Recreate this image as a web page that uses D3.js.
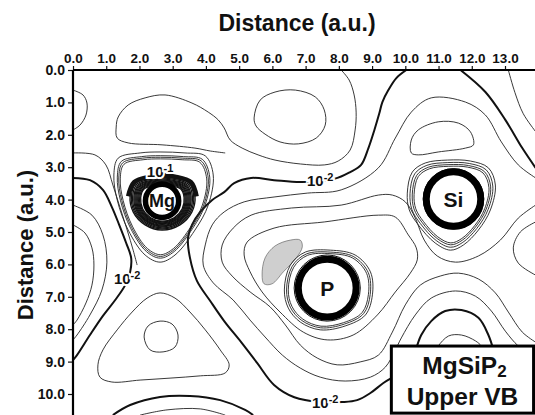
<!DOCTYPE html>
<html>
<head>
<meta charset="utf-8">
<script src="https://cdn.jsdelivr.net/npm/d3@7"></script>
<style>
  body { margin: 0; background: #fff; }
  text { font-family: "Liberation Sans", Arial, sans-serif; font-weight: bold; fill: #111; }
</style>
</head>
<body>
<svg width="535" height="415"></svg>
<script>
// tick values (a.u.)
var xTicks = [0, 1, 2, 3, 4, 5, 6, 7, 8, 9, 10, 11, 12, 13];
var yTicks = [0, 1, 2, 3, 4, 5, 6, 7, 8, 9, 10];

// contour lines, [x, y] in a.u.
var lineA = [[0,0.62],[0.30,0.77],[0.42,1.02],[0.39,1.39],[0.21,1.70],[0,1.85]];
var lineB = [[8.07,0],[8.31,0.31],[8.46,0.77],[8.52,1.30],[8.49,1.85],[8.34,2.47],[7.98,2.81],[7.56,2.93],[6.84,2.90],[6.08,2.78],[5.57,2.62],[5.09,2.41],[4.73,2.16],[4.55,1.79],[4.37,1.54],[4.07,1.30],[3.58,1.02],[2.77,0.77],[2.17,0.86],[1.66,1.08],[1.36,1.45],[1.30,1.76],[1.33,2.10],[1.66,2.25],[2.68,2.31],[3.67,2.41],[4.13,2.50],[4.58,2.56]];
var lineF = [[0,2.56],[0.66,2.62],[0.99,2.93],[1.20,3.55],[1.42,4.26],[1.63,4.94],[1.81,5.56],[1.93,6.02]];
var lineG = [[0,4.78],[0.36,5.03],[0.57,5.49],[0.63,6.02],[0.57,6.64],[0.39,7.19],[0.12,7.72],[0,7.87]];
var lineH = [[0,4.17],[0.57,4.48],[0.90,5.09],[1.02,5.93],[0.87,6.79],[0.51,7.56],[0.12,8.18],[0,8.33]];
var arcInner = [[2.02,10.65],[2.83,10.49],[3.83,10.46],[4.58,10.65]];
var rightThin = [[13.10,0],[13.30,0.70],[13.55,1.35],[13.92,1.90]];
var lineOverSi = [[13.92,3.33],[13.40,2.93],[12.89,2.22],[12.41,1.39],[11.81,0.99],[10.78,0.86],[10.18,1.30],[9.70,2.10],[9.19,3.02],[8.07,3.70],[7.05,3.80],[6.05,3.92],[5.15,4.07],[4.55,4.38],[4.19,4.78],[3.98,5.40],[3.92,6.02],[4.22,6.57],[4.82,7.10],[5.33,7.72],[5.78,8.24],[6.30,8.80],[6.84,9.20],[7.44,9.48],[8.19,9.60],[8.95,9.48],[9.40,9.17],[9.70,8.64],[9.88,8.27],[10.30,7.56],[10.78,7.04],[11.51,6.82],[12.11,6.98],[12.59,7.44],[13.01,8.06],[13.40,8.52],[13.86,8.86]];
var lineUnderSi = [[13.92,4.17],[13.40,4.57],[12.86,5.25],[12.20,5.74],[11.51,5.93],[10.96,5.74],[10.57,5.25],[10.30,4.57],[10.00,4.07],[9.61,3.86],[9.19,3.86],[8.07,4.17],[6.57,4.26],[5.36,4.48],[4.82,4.88],[4.49,5.40],[4.49,5.93],[4.79,6.36],[5.33,6.85],[5.93,7.31],[6.39,7.87],[6.84,8.49],[7.35,8.89],[7.95,9.10],[8.64,9.01],[9.19,8.80],[9.61,8.09],[10.00,7.25],[10.45,6.64],[11.05,6.36],[11.60,6.27],[12.20,6.45],[12.71,6.88],[13.10,7.47],[13.52,8.09],[13.92,8.40]];
var archSmall = [[10.93,8.64],[10.99,8.52],[11.30,8.21],[11.69,8.18],[12.11,8.36],[12.29,8.52],[12.35,8.64]];
var rightBulge = [[13.92,4.69],[13.46,5.00],[13.25,5.49],[13.40,5.96],[13.92,6.33]];

var thickD = [[10.03,0],[9.73,0.25],[9.49,0.62],[9.31,0.99],[9.22,1.33],[9.07,1.85],[8.89,2.41],[8.67,2.93],[8.34,3.15],[7.86,3.36],[6.87,3.46],[6.05,3.40],[5.36,3.33],[4.85,3.49],[4.55,3.77],[4.19,4.01],[3.83,4.38],[3.58,4.78],[3.46,5.19],[3.52,5.80],[3.73,6.51],[4.13,7.13],[4.55,7.75],[5.06,8.40],[5.54,9.04],[6.05,9.72],[6.66,10.10],[7.44,10.25],[8.10,10.25],[8.55,10.19],[8.95,9.97],[9.34,9.66],[9.58,9.51]];
var thickE = [[0,3.33],[0.51,3.40],[0.90,3.70],[1.17,4.23],[1.39,4.78],[1.60,5.34],[1.75,5.80],[1.72,6.23],[1.57,6.64],[1.27,7.10],[0.90,7.59],[0.51,8.18],[0.12,8.80],[0,8.95]];
var thickArcBottom = [[1.20,10.65],[1.72,10.34],[2.62,10.09],[3.52,10.06],[4.43,10.19],[5.18,10.49],[5.42,10.65]];
var thickRight = [[11.66,0],[12.41,0.68],[13.01,1.54],[13.52,2.41],[13.92,3.02]];
var thickArch = [[10.30,8.70],[10.48,8.18],[10.78,7.75],[11.20,7.44],[11.69,7.41],[12.20,7.65],[12.50,8.18],[12.65,8.64]];

// closed contours
var loopC = [[5.45,1.48],[5.63,0.93],[6.08,0.68],[6.69,0.62],[7.29,0.83],[7.56,1.23],[7.59,1.70],[7.32,2.10],[6.78,2.28],[6.23,2.22],[5.78,1.98],[5.51,1.73]];
var loopTriangle = [[2.62,6.88],[3.07,7.04],[3.52,7.47],[3.98,8.02],[4.43,8.64],[4.70,9.10],[4.58,9.35],[3.83,9.44],[2.92,9.51],[2.02,9.57],[1.17,9.63],[0.81,9.48],[0.75,9.10],[0.90,8.64],[1.33,8.02],[1.78,7.47],[2.23,7.04]];
var loopMin = [[2.14,8.24],[2.26,7.90],[2.62,7.75],[2.98,7.84],[3.16,8.18],[3.07,8.55],[2.71,8.70],[2.32,8.64]];
var loopSiTop = [[10.18,2.56],[10.18,2.16],[10.39,1.85],[10.99,1.60],[11.60,1.64],[11.96,1.91],[12.05,2.31],[11.81,2.41],[10.99,2.53],[10.39,2.62]];
var loopAroundP = [[5.24,5.31],[6.05,4.88],[7.56,4.69],[9.19,4.48],[9.70,4.54],[10.09,5.09],[10.33,5.49],[10.36,5.86],[10.15,6.27],[9.70,6.85],[9.16,7.56],[8.43,8.18],[7.65,8.33],[6.93,8.09],[6.23,7.47],[5.69,6.85],[5.33,6.23],[5.15,5.71]];
var shaded = [[5.69,6.33],[5.78,5.80],[6.08,5.43],[6.54,5.25],[6.84,5.25],[6.90,5.46],[6.72,5.80],[6.33,6.23],[5.99,6.60],[5.75,6.60]];

// nested loop families around the atoms: base shape, centre, relative sizes
var mgShape = [[1.36,2.72],[2.02,2.56],[2.62,2.53],[3.37,2.56],[3.98,2.65],[4.22,3.24],[4.07,4.17],[3.67,4.94],[3.07,5.71],[2.62,5.93],[2.17,5.71],[1.66,4.94],[1.33,4.01],[1.23,3.24]];
var mgScales = [1, 0.93, 0.9, 0.87];
var mgCore = [[1.72,3.86],[1.87,3.46],[2.32,3.31],[2.68,3.27],[3.07,3.31],[3.52,3.46],[3.67,3.86],[3.58,4.38],[3.22,4.78],[2.68,4.94],[2.17,4.78],[1.81,4.38]];
var mgCoreScales = [1, 0.96, 0.92, 0.88, 0.85, 0.82, 0.79, 0.76, 0.73, 0.7, 0.67];
var mgCap = [[1.66,3.90],[1.84,3.46],[2.32,3.29],[2.68,3.25],[3.07,3.29],[3.55,3.46],[3.72,3.90]];
var siShape = [[10.06,3.80],[10.21,3.15],[10.60,2.87],[11.27,2.78],[11.96,2.81],[12.50,3.02],[12.71,3.55],[12.56,4.32],[12.20,4.94],[11.75,5.40],[11.36,5.56],[10.90,5.34],[10.39,4.78],[10.12,4.32]];
var siScales = [1, 0.94, 0.89, 0.85];
var pShape = [[6.36,6.79],[6.54,6.02],[6.99,5.62],[7.74,5.56],[8.49,5.71],[8.95,6.23],[9.01,6.94],[8.80,7.56],[8.19,7.90],[7.44,8.02],[6.84,7.78],[6.48,7.35]];
var pScales = [1, 0.95, 0.91];

var atomNames = ["Mg", "Si", "P"];
var atomX = [2.68, 11.45, 7.65];
var atomY = [4.04, 3.98, 6.73];
var atomR = [0.50, 0.82, 0.87];        // radius of the black core ring (a.u.)
var atomRings = [[], [0.95, 1.0], [0.98, 1.04]];
var familyCentres = [[2.71,4.17],[11.42,4.07],[7.68,6.76]];

// level labels
var levelText = ["10", "10", "10", "10"];
var levelExp = ["-1", "-2", "-2", "-2"];
var levelX = [2.62, 1.63, 7.44, 7.59];
var levelY = [3.12, 6.42, 3.40, 10.25];

var svg = d3.select("svg"),
    margin = {top: 70, right: 0, bottom: 0, left: 73},
    width = svg.attr("width") - margin.left - margin.right,
    height = svg.attr("height") - margin.top - margin.bottom;

var x = d3.scaleLinear().domain([0, 13]).range([0, 432]);
var y = d3.scaleLinear().domain([0, 10]).range([0, 324]);

var g = svg.append("g")
    .attr("transform", "translate(" + margin.left + "," + margin.top + ")");

svg.append("defs").append("clipPath").attr("id", "plot")
  .append("rect").attr("width", width).attr("height", height);

var openPath = d3.line().x(d => x(d[0])).y(d => y(d[1])).curve(d3.curveCatmullRom.alpha(0.5));
var loopPath = d3.line().x(d => x(d[0])).y(d => y(d[1])).curve(d3.curveCatmullRomClosed.alpha(0.5));

function scaled(shape, c, s) {
  return shape.map(p => [c[0] + s * (p[0] - c[0]), c[1] + s * (p[1] - c[1])]);
}

var plot = g.append("g").attr("clip-path", "url(#plot)");

// shaded maximum
plot.append("path").attr("d", loopPath(shaded))
    .attr("fill", "#cfcfcf").attr("stroke", "#555").attr("stroke-width", 0.6);

var thin = [lineA, lineB, lineF, lineG, lineH, arcInner, rightThin, lineOverSi, lineUnderSi, archSmall, rightBulge];
var thick = [thickD, thickE, thickArcBottom, thickRight, thickArch];
var loops = [loopC, loopTriangle, loopMin, loopSiTop, loopAroundP];

plot.selectAll(".thin").data(thin).enter().append("path")
    .attr("d", openPath).attr("fill", "none").attr("stroke", "#222").attr("stroke-width", 0.9);
plot.selectAll(".loop").data(loops).enter().append("path")
    .attr("d", loopPath).attr("fill", "none").attr("stroke", "#222").attr("stroke-width", 0.9);
plot.selectAll(".thick").data(thick).enter().append("path")
    .attr("d", openPath).attr("fill", "none").attr("stroke", "#111").attr("stroke-width", 2);

// loop families around the atoms
var families = [[mgShape, mgScales, 0], [siShape, siScales, 1], [pShape, pScales, 2]];
families.forEach(function(f) {
  f[1].forEach(function(s) {
    plot.append("path").attr("d", loopPath(scaled(f[0], familyCentres[f[2]], s)))
        .attr("fill", "none").attr("stroke", "#222").attr("stroke-width", 0.9);
  });
});
mgCoreScales.forEach(function(s) {
  plot.append("path").attr("d", loopPath(scaled(mgCore, [2.68, 4.11], s)))
      .attr("fill", "none").attr("stroke", "#111").attr("stroke-width", 1.3);
});
plot.append("path").attr("d", openPath(mgCap)).attr("fill", "none")
    .attr("stroke", "#111").attr("stroke-width", 4.5);

// atoms: dense ring + white centre
atomNames.forEach(function(n, i) {
  var cx = x(atomX[i]), cy = y(atomY[i]), r = x(atomR[i]);
  atomRings[i].forEach(function(k) {
    plot.append("circle").attr("cx", cx).attr("cy", cy).attr("r", r * k + 3)
        .attr("fill", "none").attr("stroke", "#111").attr("stroke-width", 1);
  });
  plot.append("circle").attr("cx", cx).attr("cy", cy).attr("r", r)
      .attr("fill", "#fff").attr("stroke", "#000").attr("stroke-width", i == 0 ? 5.5 : 7);
  plot.append("text").attr("x", cx).attr("y", cy)
      .attr("text-anchor", "middle").attr("dy", "0.36em")
      .style("font-size", i == 0 ? "18px" : "21px").text(n);
});

// contour level labels
levelText.forEach(function(t, i) {
  var lab = plot.append("text").attr("x", x(levelX[i])).attr("y", y(levelY[i]))
      .attr("text-anchor", "middle").attr("dy", "0.4em")
      .style("font-size", "15px")
      .attr("stroke", "#fff").attr("stroke-width", 4).attr("paint-order", "stroke");
  lab.append("tspan").text(t);
  lab.append("tspan").attr("dy", "-0.45em").style("font-size", "11px").text(levelExp[i]);
});

// legend box
var bx0 = x(9.58), by0 = y(8.52), bx1 = x(13.86), by1 = y(10.59);
g.append("rect").attr("x", bx0).attr("y", by0).attr("width", bx1 - bx0).attr("height", by1 - by0)
    .attr("fill", "#fff").attr("stroke", "#000").attr("stroke-width", 3);
var t1 = g.append("text").attr("x", (bx0 + bx1) / 2 + 2).attr("y", by0 + 28)
    .attr("text-anchor", "middle").style("font-size", "24.5px");
t1.append("tspan").text("MgSiP");
t1.append("tspan").attr("dy", "0.2em").style("font-size", "17px").text("2");
g.append("text").attr("x", (bx0 + bx1) / 2).attr("y", by0 + 59)
    .attr("text-anchor", "middle").style("font-size", "24.5px").text("Upper VB");

// axes
var xAxis = g.append("g")
    .call(d3.axisTop(x).tickValues(xTicks).tickFormat(d3.format(".1f")).tickSize(4).tickSizeOuter(0));
var yAxis = g.append("g")
    .call(d3.axisLeft(y).tickValues(yTicks).tickFormat(d3.format(".1f")).tickSize(5).tickSizeOuter(0));
xAxis.select(".domain").remove();
yAxis.select(".domain").remove();
xAxis.selectAll("text").style("font-size", "13.5px").attr("fill", "#111");
yAxis.selectAll("text").style("font-size", "14px").attr("fill", "#111");
g.selectAll(".tick line").attr("stroke", "#111").attr("stroke-width", 1.2);

g.append("line").attr("x1", 0).attr("x2", width).attr("y1", 0).attr("y2", 0)
    .attr("stroke", "#000").attr("stroke-width", 2.2);
g.append("line").attr("x1", 0).attr("x2", 0).attr("y1", 0).attr("y2", height)
    .attr("stroke", "#000").attr("stroke-width", 2.2);

svg.append("text").attr("x", 297).attr("y", 31).attr("text-anchor", "middle")
    .style("font-size", "23px").text("Distance (a.u.)");
svg.append("text").attr("transform", "translate(33,245) rotate(-90)")
    .attr("text-anchor", "middle").style("font-size", "22px").text("Distance (a.u.)");
</script>
</body>
</html>
